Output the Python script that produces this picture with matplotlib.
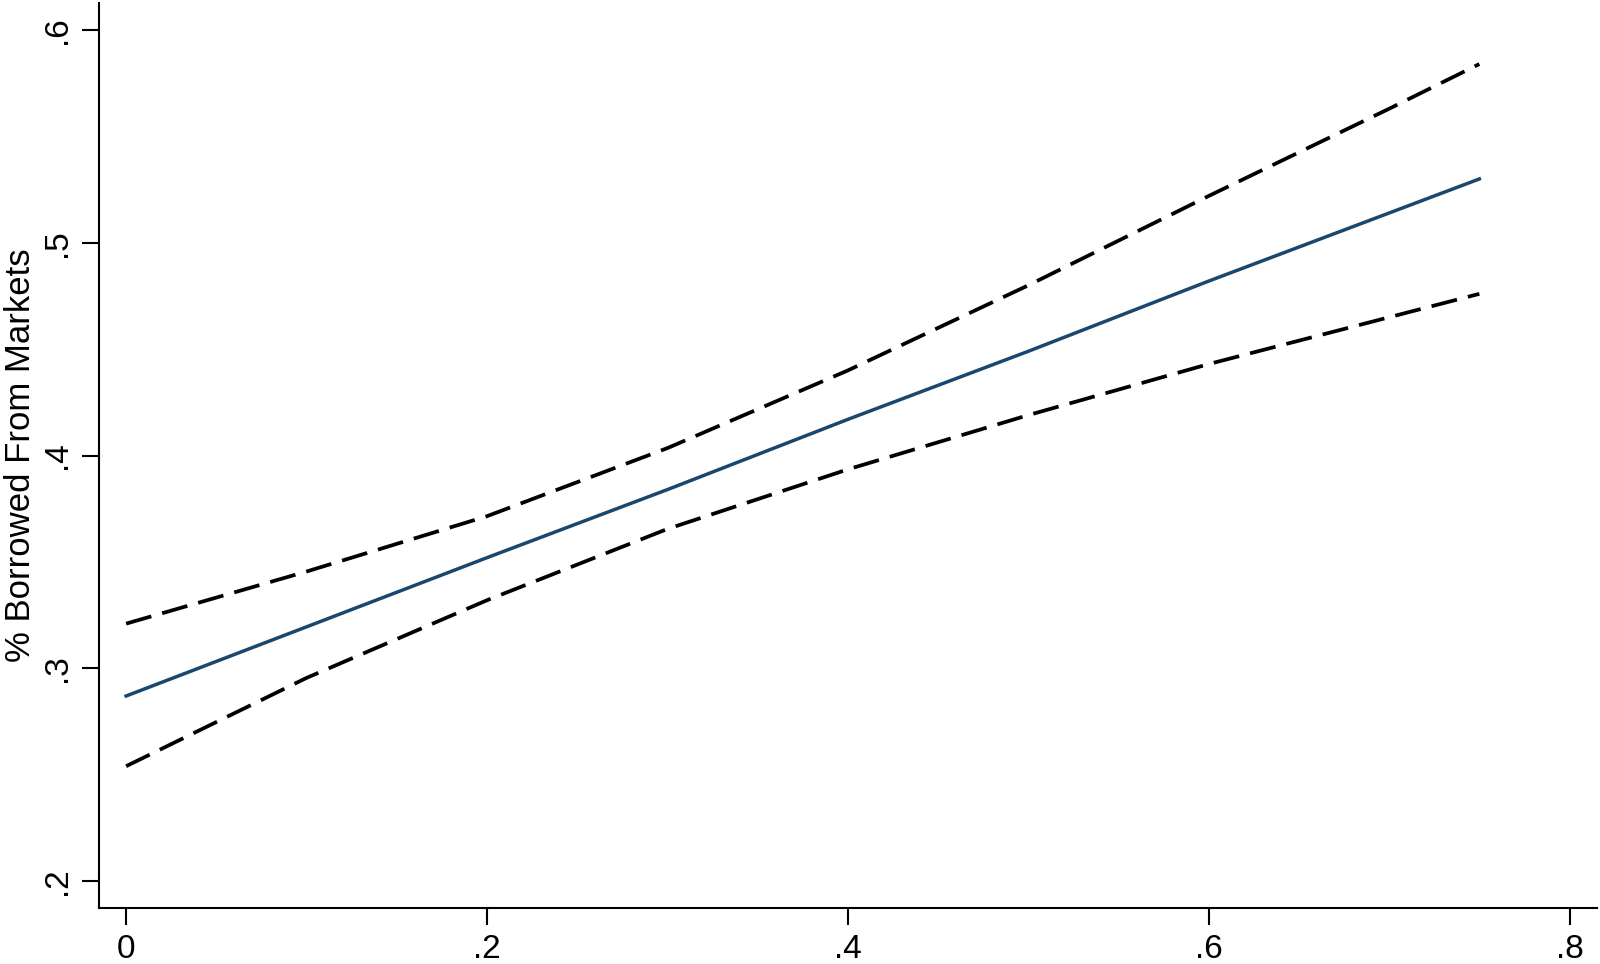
import numpy as np
from matplotlib import pyplot as plt

# %% data

x_vals = [0.0, 0.1, 0.2, 0.3, 0.4, 0.5, 0.6, 0.7, 0.75]
fit = [0.287, 0.3195, 0.352, 0.384, 0.417, 0.449, 0.482, 0.514, 0.530]
ci_upper = [0.321, 0.3455, 0.3715, 0.4035, 0.440, 0.480, 0.522, 0.563, 0.584]
ci_lower = [0.254, 0.2955, 0.332, 0.3655, 0.3935, 0.419, 0.443, 0.465, 0.476]

xticks = [0, 0.2, 0.4, 0.6, 0.8]
xtick_labels = ['0', '.2', '.4', '.6', '.8']
yticks = [0.2, 0.3, 0.4, 0.5, 0.6]
ytick_labels = ['.2', '.3', '.4', '.5', '.6']

# %% plot

plt.rc('font', family=['Liberation Sans', 'DejaVu Sans'])

fig = plt.figure(figsize=(16, 9.64), dpi=100)
ax = fig.add_axes([0.0619, 0.0584, 0.936, 0.9385])

ax.plot(x_vals, ci_upper, color='black', lw=2.7, linestyle=(0, (7, 3)))
ax.plot(x_vals, ci_lower, color='black', lw=2.7, linestyle=(0, (7, 3)))
ax.plot(x_vals, fit, color='#1a476f', lw=2.5)

ax.set_xlim(-0.015, 0.815)
ax.set_ylim(0.1875, 0.6127)

ax.set_xticks(xticks)
ax.set_xticklabels(xtick_labels, fontsize=24)
ax.set_yticks(yticks)
ax.set_yticklabels(ytick_labels, fontsize=24, rotation=90, va='center')
ax.tick_params(length=12, width=1.5, pad=7)

ax.set_ylabel('% Borrowed From Markets', fontsize=25, labelpad=3)

for s in ['top', 'right']:
    ax.spines[s].set_visible(False)
for s in ['left', 'bottom']:
    ax.spines[s].set_linewidth(1.5)

plt.savefig('out.png', dpi=100)
